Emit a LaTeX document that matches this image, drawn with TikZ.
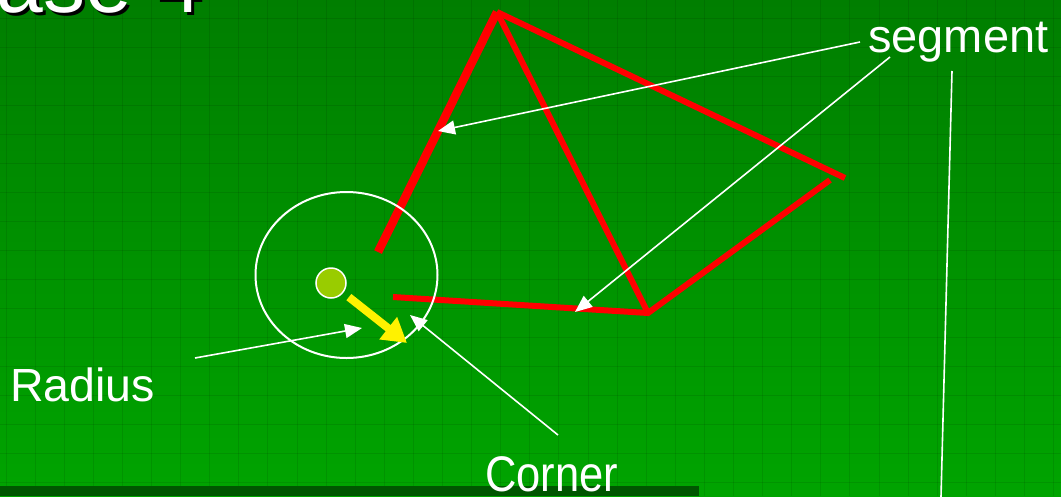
\documentclass[tikz,border=0pt]{standalone}
\usepackage{fontspec}
\setmainfont{Liberation Sans}
\usetikzlibrary{arrows.meta, positioning}

\definecolor{bgtop}{RGB}{0,126,0}
\definecolor{bgbot}{RGB}{0,164,0}
\definecolor{barcol}{RGB}{0,86,0}
\definecolor{ballcol}{RGB}{153,204,0}

\begin{document}
\begin{tikzpicture}[
  x=1pt, y=-1pt,
  seg/.style={draw=red, line width=6pt},
  thickseg/.style={draw=red, line width=8.5pt},
  pointer/.style={draw=white, line width=1.6pt, -{Triangle[length=17pt,width=14pt]}},
  plainline/.style={draw=white, line width=1.6pt},
  gridline/.style={draw=black, opacity=0.09, line width=1pt},
  radiusarrow/.style={draw=yellow, line width=8pt, -{Triangle[length=24pt,width=27pt]}},
  txtlabel/.style={text=white, inner sep=0pt, anchor=base west, font=\fontsize{47}{56}\selectfont},
  titletext/.style={inner sep=0pt, anchor=base west, font=\fontsize{84}{96}\selectfont}
]

% Background
\useasboundingbox (0,0) rectangle (1061,496);
\clip (0,0) rectangle (1061,496);
\fill[top color=bgtop, bottom color=bgbot] (0,0) rectangle (1061,496);
\foreach \gx in {0,...,36} \draw[gridline] ({6+29.1*\gx},0) -- ++(0,496);
\foreach \gy in {0,...,16} \draw[gridline] (0,{18+29*\gy}) -- ++(1061,0);
\fill[barcol] (0,486) rectangle (699,496);

% Title
\node[titletext, text=black] (titleshadow) at (-61,15) {Case 4};
\node[titletext, text=white] (title) at (-64,12) {Case 4};

% Polygon
\coordinate (apex) at (497,12);
\coordinate (leftend) at (378,252);
\coordinate (rightend) at (845,178);
\coordinate (lowright) at (830,180);
\coordinate (base) at (648,313);
\coordinate (lowend) at (393,297);

\draw[thickseg] (leftend) -- (apex);
\draw[seg] (apex) -- (rightend);
\draw[seg] (apex) -- (base);
\draw[seg, line join=miter] (lowend) -- (base) -- (lowright);

% Circle and radius
\coordinate (zone) at (346.5,275);
\draw[white, line width=2pt] (zone) ellipse [x radius=91, y radius=83];
\node[circle, fill=ballcol, draw=white, line width=1.5pt, minimum size=30pt, inner sep=0pt] (ball) at (331,283) {};
\coordinate (rtip) at (407,343);
\draw[radiusarrow, shorten <=7pt] (ball) -- (rtip);

% Labels
\node[txtlabel] (segment) at (868,52) {segment};
\node[txtlabel, font=\fontsize{46.5}{56}\selectfont] (radius) at (10,401) {Radius};
\node[txtlabel, xscale=0.87, font=\fontsize{50}{60}\selectfont] (corner) at (485,491) {Corner};

% Pointers
\coordinate (segA) at (860,42);
\coordinate (segAtip) at (438,131);
\coordinate (segB) at (890,57);
\coordinate (segBtip) at (575,312);
\coordinate (segC) at (952,71);
\coordinate (segCend) at (941,497);
\coordinate (radA) at (195,358);
\coordinate (radAtip) at (362,328);
\coordinate (corA) at (558,435);
\coordinate (corAtip) at (410,315);

\draw[pointer] (segA) -- (segAtip);
\draw[pointer] (segB) -- (segBtip);
\draw[plainline] (segC) -- (segCend);
\draw[pointer] (radA) -- (radAtip);
\draw[pointer] (corA) -- (corAtip);

\end{tikzpicture}
\end{document}
